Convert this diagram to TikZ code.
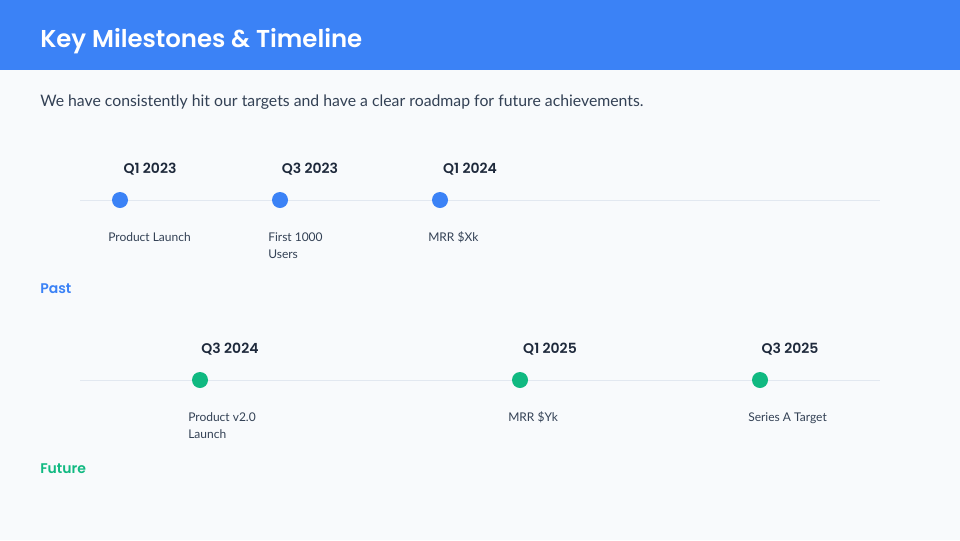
\documentclass[tikz,border=0pt]{standalone}
\usepackage{fontspec}
\setmainfont{Lato}
\newfontfamily\headfont{Poppins}[UprightFont={* SemiBold}, BoldFont={* SemiBold}]
\usepackage{xcolor}
\definecolor{Header Blue}{HTML}{3B82F6}
\definecolor{Emerald}{HTML}{10B981}
\definecolor{Slate Light}{HTML}{F8FAFC}
\definecolor{Slate Line}{HTML}{E2E8F0}
\definecolor{Slate Dark}{HTML}{1E293B}
\definecolor{Slate Text}{HTML}{334155}
\colorlet{cPast}{Header Blue}
\colorlet{cFuture}{Emerald}
\usepackage{tikz}
\usetikzlibrary{calc, positioning}
\tikzset{
	x=0.75pt,
	y=-0.75pt,
	label text/.style={
		inner sep=0pt,
		anchor=base west
	},
	dot/.style={
		circle,
		inner sep=0pt,
		minimum size=12pt
	},
	pastdot/.style={dot, fill=cPast},
	futuredot/.style={dot, fill=cFuture},
	when/.style={
		inner sep=0pt,
		anchor=base,
		text=Slate Dark,
		font=\headfont\fontsize{10.5}{12}\selectfont
	},
	what/.style={
		label text,
		align=left,
		text=Slate Text,
		font=\fontsize{9}{12.75}\selectfont
	},
	track/.style={
		draw=Slate Line,
		line width=.75pt
	}
}

\begin{document}
\begin{tikzpicture}
	\useasboundingbox (0,0) rectangle (960,540);
	\fill[Slate Light] (0,0) rectangle (960,540);
	\fill[Header Blue] (0,0) rectangle (960,70);

	\node (title) [label text, text=white, font=\headfont\fontsize{18.3}{22}\selectfont] at (40,47) {Key Milestones \& Timeline};
	\node (intro) [label text, text=Slate Text, font=\fontsize{11.85}{14}\selectfont] at (40,106) {We have consistently hit our targets and have a clear roadmap for future achievements.};

	% past
	\coordinate (p start) at (80,200);
	\coordinate (p end) at (880,200);
	\draw[track] (p start) -- (p end);
	\node (d1) [pastdot] at (120,200) {};
	\node (d2) [pastdot] at (280,200) {};
	\node (d3) [pastdot] at (440,200) {};
	\node (w1) [when] at ($(d1)+(30,-27)$) {Q1 2023};
	\node (w2) [when] at ($(d2)+(30,-27)$) {Q3 2023};
	\node (w3) [when] at ($(d3)+(30,-27)$) {Q1 2024};
	\node (m1) [what] at ($(d1)+(-12,41)$) {Product Launch};
	\node (m2) [what] at ($(d2)+(-12,58)$) {First 1000\\Users};
	\node (m3) [what] at ($(d3)+(-12,41)$) {MRR \$Xk};
	\node (past) [label text, text=cPast, font=\headfont\fontsize{10.5}{12}\selectfont] at (40,293) {Past};

	% future
	\coordinate (f start) at (80,380);
	\coordinate (f end) at (880,380);
	\draw[track] (f start) -- (f end);
	\node (d4) [futuredot] at (200,380) {};
	\node (d5) [futuredot] at (520,380) {};
	\node (d6) [futuredot] at (760,380) {};
	\node (w4) [when] at ($(d4)+(30,-27)$) {Q3 2024};
	\node (w5) [when] at ($(d5)+(30,-27)$) {Q1 2025};
	\node (w6) [when] at ($(d6)+(30,-27)$) {Q3 2025};
	\node (m4) [what] at ($(d4)+(-12,58)$) {Product v2.0\\Launch};
	\node (m5) [what] at ($(d5)+(-12,41)$) {MRR \$Yk};
	\node (m6) [what] at ($(d6)+(-12,41)$) {Series A Target};
	\node (future) [label text, text=cFuture, font=\headfont\fontsize{10.5}{12}\selectfont] at (40,473) {Future};
\end{tikzpicture}
\end{document}
